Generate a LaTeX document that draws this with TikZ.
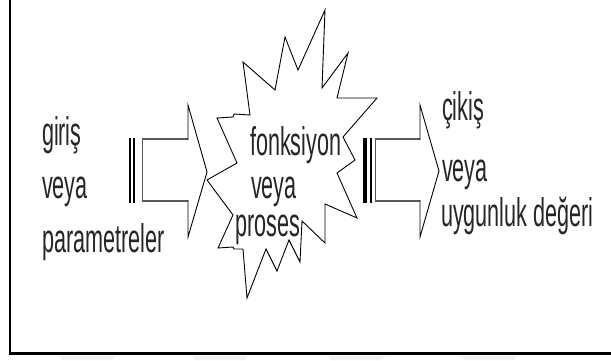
\documentclass[tikz,border=0pt]{standalone}
\usepackage{fontspec}
\newfontfamily\diagfont[FakeStretch=0.54]{Liberation Sans}
\tikzset{
  lbl/.style={anchor=base west, inner sep=0pt, outer sep=0pt, text=black!85,
              font=\diagfont\fontsize{40}{44}\selectfont},
  outline/.style={draw=black, line width=0.9pt, line join=miter},
  shaft/.style={draw=black!65, line width=1.8pt},
  headline/.style={draw=black, line width=0.9pt},
  bar/.style={draw=black, line cap=butt},
  frameline/.style={draw=black, line width=2.2pt},
  wmark/.style={fill=black!5, draw=none}
}
\begin{document}
\begin{tikzpicture}[x=1pt,y=-1pt]
\useasboundingbox (0,0) rectangle (611,360);
\fill[white] (0,0) rectangle (611,360);
% frame
\coordinate (ftop) at (10,0);
\coordinate (fcorner) at (10,353.5);
\coordinate (fright) at (611,353.5);
\draw[frameline] (ftop) -- (fcorner) -- (fright);
% faint watermark bands
\fill[wmark] (58,355.8) -- (117,355.8) -- (112,360) -- (63,360) -- cycle;
\fill[wmark] (191,355.8) -- (249,355.8) -- (244,360) -- (196,360) -- cycle;
\fill[wmark] (327,355.8) -- (386,355.8) -- (381,360) -- (332,360) -- cycle;
\fill[wmark] (460,355.8) -- (518,355.8) -- (513,360) -- (465,360) -- cycle;

% starburst
\draw[outline] (207,180) -- (237,163) -- (217,118) -- (233,117) -- (234,114) -- (250,115)
  -- (243,62) -- (275,90) -- (285,37) -- (298,70) -- (325,10) -- (322,88)
  -- (348,53) -- (337,98) -- (377,98) -- (343,137) -- (355,160) -- (337,173)
  -- (357,218) -- (325,204) -- (325,243) -- (302,221) -- (300,262) -- (289,240)
  -- (277,271) -- (266,249) -- (247,298) -- (243,249) -- (234,249) -- (233,247)
  -- (218,248) -- (233,215) -- cycle;

% left arrow
\draw[bar, line width=1.8pt] (130.2,137.5) -- (130.2,202.5);
\draw[bar, line width=2.3pt] (133.9,137.5) -- (133.9,202.5);
\draw[shaft] (142.5,138.2) -- (142.5,201.8);
\draw[shaft] (141.6,139) -- (188,139);
\draw[shaft] (141.6,201) -- (188,201);
\draw[headline] (188,139.9) -- (188,105) -- (207,172) -- (188,237) -- (188,200.1);

% right arrow
\draw[bar, line width=4.2pt] (365.2,137.5) -- (365.2,202.5);
\draw[bar, line width=2.3pt] (370.8,137.5) -- (370.8,202.5);
\draw[shaft] (375.5,138.2) -- (375.5,201.8);
\draw[shaft] (374.6,139) -- (420,139);
\draw[shaft] (374.6,201) -- (420,201);
\draw[headline] (420,139.9) -- (420,105) -- (439,171) -- (420,237) -- (420,200.1);

% left texts
\node[lbl] (in1) at (42,145) {giriş};
\node[lbl] (in2) at (42,198) {veya};
\node[lbl] (in3) at (42,252) {parametreler};
% center texts
\node[lbl] (fn1) at (250,155) {fonksiyon};
\node[lbl] (fn2) at (251,198) {veya};
\node[lbl] (fn3) at (235,236) {proses};
% right texts
\node[lbl] (out1) at (442,120) {çikiş};
\node[lbl] (out2) at (442,181) {veya};
\node[lbl] (out3) at (441,226) {uygunluk değeri};
\end{tikzpicture}
\end{document}
